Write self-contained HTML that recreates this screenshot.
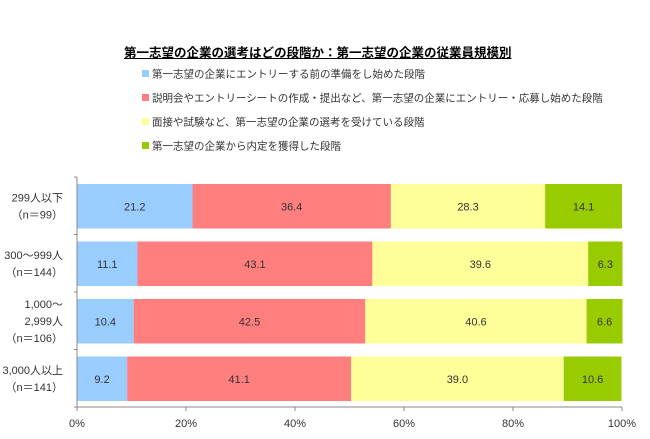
<!DOCTYPE html>
<html><head><meta charset="utf-8"><style>
body{margin:0;background:#fff;font-family:"Liberation Sans","Noto Sans CJK JP",sans-serif;}
#wrap{position:relative;width:650px;height:439px;overflow:hidden}
.t{position:absolute;white-space:nowrap}
</style></head><body>
<div id="wrap">
<div class="t" style="left:124px;top:42px;font-size:12.5px;font-weight:bold;text-decoration:underline;color:#000">第一志望の企業の選考はどの段階か：第一志望の企業の従業員規模別</div>
<svg id="svg" width="650" height="439" style="position:absolute;left:0;top:0"></svg>
</div>
<script>
const categories=[["299人以下","（n＝99）"],["300～999人","（n＝144）"],["1,000～","2,999人","（n＝106）"],["3,000人以上","（n＝141）"]];
const seriesNames=["第一志望の企業にエントリーする前の準備をし始めた段階","説明会やエントリーシートの作成・提出など、第一志望の企業にエントリー・応募し始めた段階","面接や試験など、第一志望の企業の選考を受けている段階","第一志望の企業から内定を獲得した段階"];
const s1=[21.2,11.1,10.4,9.2];
const s2=[36.4,43.1,42.5,41.1];
const s3=[28.3,39.6,40.6,39.0];
const s4=[14.1,6.3,6.6,10.6];
const ticks=[0,20,40,60,80,100];
const colors=["#99ccff","#ff7f7f","#ffff99","#99cc00"];
const NS="http://www.w3.org/2000/svg";
const svg=document.getElementById('svg');
const X0=77,X1=622,Y0=177,Y1=407;
const x=v=>X0+(X1-X0)*v/100;
const band=(Y1-Y0)/categories.length;
const y=i=>Y0+band*i;
function mk(t,a){const e=document.createElementNS(NS,t);for(const k in a)e.setAttribute(k,a[k]);svg.appendChild(e);return e;}
// legend
seriesNames.forEach((n,i)=>{
  const yy=70+i*24;
  const r=mk('rect',{x:142,y:yy,width:7,height:7,fill:colors[i]});
  
  
  const t=mk('text',{x:152,y:yy+7.5,'font-size':'10.5',fill:'#333'});
  t.textContent=n;
  
  
});
const series=[s1,s2,s3,s4];
categories.forEach((c,i)=>{
  let acc=0;
  const top=y(i)+7,h=band-13;
  series.forEach((s,j)=>{
    const v=s[i];
    const r=mk('rect',{x:x(acc),y:top,width:x(acc+v)-x(acc),height:h,fill:colors[j]});
    
    
    const t=mk('text',{x:(x(acc)+x(acc+v))/2,y:top+h/2+4,'font-size':'11','text-anchor':'middle',fill:'#333'});
    t.textContent=v.toFixed(1);
    
    
    acc+=v;
  });
  const lines=c, cy=y(i)+band/2, lh=17;
  lines.forEach((l,k)=>{
    const t=mk('text',{x:63,y:cy+(k-(lines.length-1)/2)*lh+4,'font-size':'11','text-anchor':'end',fill:'#333'});
    t.textContent=l;
    
    
  });
  mk('line',{x1:X0-3,x2:X0,y1:y(i),y2:y(i),stroke:'#888'});
});
mk('line',{x1:X0-3,x2:X0,y1:Y1,y2:Y1,stroke:'#888'});
mk('line',{x1:X0,x2:X0,y1:Y0,y2:Y1,stroke:'#888'});
mk('line',{x1:X0,x2:X1,y1:Y1,y2:Y1,stroke:'#888'});
ticks.forEach(v=>{
  mk('line',{x1:x(v),x2:x(v),y1:Y1,y2:Y1+4,stroke:'#888'});
  const t=mk('text',{x:x(v),y:Y1+20,'font-size':'11','text-anchor':'middle',fill:'#333'});
  t.textContent=v+'%';
  
  
});
</script>
</body></html>
